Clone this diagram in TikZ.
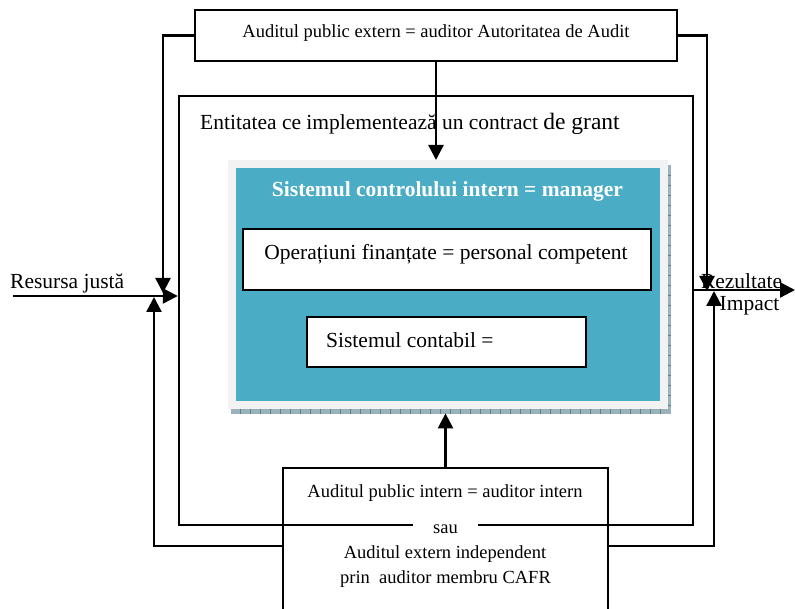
\documentclass[tikz,border=0pt]{standalone}
\usepackage{fontspec}
\setmainfont{Liberation Serif}
\usetikzlibrary{arrows.meta}

\definecolor{ctrlblue}{HTML}{4BACC6}
\definecolor{framegray}{HTML}{F2F2F2}
\definecolor{stripfill}{HTML}{9AB3BA}
\definecolor{striptick}{HTML}{5E7F88}

\tikzset{
  box/.style={draw, line width=2.4pt, inner sep=0pt},
  panel/.style={inner sep=0pt, anchor=north west},
  conn/.style={line width=2.4pt, -{Triangle[length=15pt,width=15pt]}},
  bigtxt/.style={font=\fontsize{21.5}{25}\selectfont, inner sep=0pt},
  smalltxt/.style={font=\fontsize{18.5}{25}\selectfont, inner sep=0pt},
}

\begin{document}
\begin{tikzpicture}[x=1pt,y=-1pt]
\useasboundingbox (0,0) rectangle (795,609);
\clip (0,0) rectangle (795,609);

% entity frame
\node[box, minimum width=514pt, minimum height=429pt] (ent) at (436,310.5) {};
\node[bigtxt, anchor=base west] (enttitle) at (200,130)
  {Entitatea ce implementează un contract {\fontsize{23.5}{25}\selectfont de grant}};

% internal control panel with its shadow strips
\node[panel, fill=framegray, minimum width=440pt, minimum height=249pt] (frame) at (228,160) {};
\fill[stripfill] (668,165) rectangle (671,414);
\fill[stripfill] (231,409) rectangle (671,414);
\foreach \yy in {175,185,...,405} \draw[striptick, line width=0.6pt] (668,\yy) -- (671,\yy);
\foreach \xx in {240,250,...,665} \draw[striptick, line width=0.6pt] (\xx,409) -- (\xx,414);
\node[panel, fill=ctrlblue, minimum width=424pt, minimum height=233pt] (ctrl) at (236,168) {};
\node[font=\fontsize{21.5}{25}\selectfont\bfseries, text=white, inner sep=0pt, anchor=base]
  (ctrltitle) at (447.5,197) {Sistemul controlului intern = manager};

\node[box, panel, fill=white, minimum width=408pt, minimum height=61pt] (ops) at (242,228) {};
\node[bigtxt, anchor=base] (opstext) at (446,260) {Operațiuni finanțate = personal competent};

\node[box, panel, fill=white, minimum width=279pt, minimum height=50pt] (acc) at (306,316) {};
\node[bigtxt, anchor=base west] (acctext) at (326,348) {Sistemul contabil =};

% external audit box
\node[box, minimum width=482pt, minimum height=51pt] (top) at (436,35.5) {};
\node[smalltxt, anchor=base] (toptext) at (436,38)
  {Auditul public extern = auditor Autoritatea de Audit};

% internal / independent audit box
\node[box, minimum width=325pt, minimum height=156pt] (bot) at (445.5,546) {};
\node[smalltxt, anchor=base] (bottext) at (445,497) {Auditul public intern = auditor intern};
\node[smalltxt, fill=white, inner xsep=20pt, inner ysep=3pt, anchor=base] (sau) at (445.5,533) {sau};
\node[smalltxt, anchor=base] (indep) at (445,558) {Auditul extern independent};
\node[smalltxt, anchor=base] (cafr) at (445.5,583) {prin\ \ auditor membru CAFR};

% side labels
\node[bigtxt, anchor=base west] (res) at (10,289) {Resursa justă};
\node[bigtxt, anchor=base] (rez) at (741.5,289) {Rezultate};
\node[bigtxt, anchor=base] (imp) at (749.5,311) {Impact};

% connector end points
\coordinate (src) at (13,296);
\coordinate (dst) at (795,290);
\coordinate (inA) at (163,293);
\coordinate (inB) at (154,297);
\coordinate (outA) at (707,291);
\coordinate (outB) at (714,291);

% connectors
\draw[conn] (top.south) -- (top.south |- frame.north);
\draw[conn] (bot.north) -- ([yshift=-4pt]bot.north |- frame.south);
\draw[conn] (top.west) -| (inA);
\draw[conn] (top.east) -| (outA);
\draw[conn] (bot.west) -| (inB);
\draw[conn] (bot.east) -| (outB);
\draw[conn] (src) -- (src -| ent.west);
\draw[conn] (dst -| ent.east) -- (dst);
\end{tikzpicture}
\end{document}
